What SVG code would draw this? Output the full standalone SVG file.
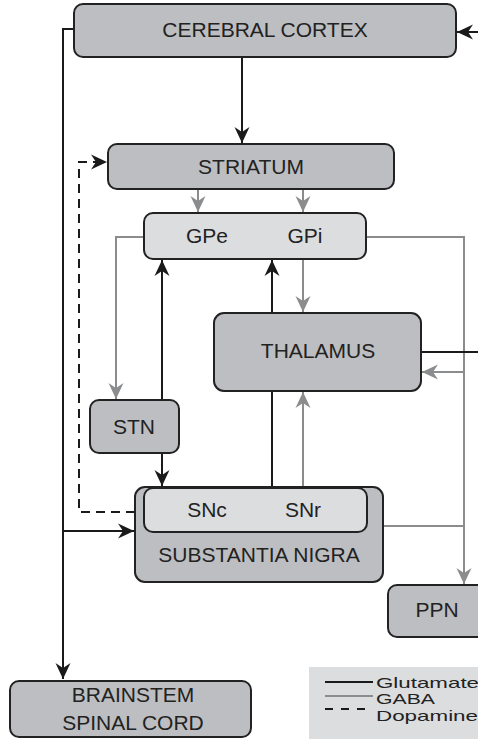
<svg xmlns="http://www.w3.org/2000/svg" width="478" height="739" viewBox="0 0 478 739">
<style>
.box{fill:#bdbec1;stroke:#222;stroke-width:2}
.lbox{fill:#dcdddf;stroke:#222;stroke-width:2}
.t{font-family:"Liberation Sans",Arial,sans-serif;font-size:21px;fill:#222;text-anchor:middle}
.lt{font-family:"Liberation Sans",Arial,sans-serif;font-size:15px;fill:#222}
.k{fill:none;stroke:#1a1a1a;stroke-width:2}
.g{fill:none;stroke:#8b8c8e;stroke-width:2}
.d{fill:none;stroke:#1a1a1a;stroke-width:2;stroke-dasharray:9,6}
.ka{marker-end:url(#ak)}
.ga{marker-end:url(#ag)}
</style>
<defs>
<marker id="ak" markerUnits="userSpaceOnUse" viewBox="0 0 16 16" markerWidth="16" markerHeight="16" refX="16" refY="8" orient="auto"><path d="M0,0.5 L16,8 L0,15.5 L5,8 z" fill="#1a1a1a"/></marker>
<marker id="ag" markerUnits="userSpaceOnUse" viewBox="0 0 16 16" markerWidth="16" markerHeight="16" refX="16" refY="8" orient="auto"><path d="M0,0.5 L16,8 L0,15.5 L5,8 z" fill="#8b8c8e"/></marker>
</defs>
<g id="connectors">
<polyline class="k ka" points="74,29 63,29 63,679"/>
<line class="k ka" x1="242" y1="57" x2="242" y2="143"/>
<line class="k ka" x1="478" y1="32" x2="457" y2="32"/>
<polyline class="d ka" points="135,512 79,512 79,162 107,162"/>
<line class="g ga" x1="198" y1="189" x2="198" y2="212"/>
<line class="g ga" x1="303" y1="189" x2="303" y2="212"/>
<polyline class="g ga" points="144,237 116,237 116,399"/>
<polyline class="g ga" points="366,237 464,237 464,584"/>
<line class="g ga" x1="464" y1="372" x2="422" y2="372"/>
<line class="g" x1="383" y1="526" x2="464" y2="526"/>
<line class="g ga" x1="303" y1="259" x2="303" y2="312"/>
<line class="k ka" x1="272" y1="487" x2="272" y2="260"/>
<line class="g ga" x1="303" y1="487" x2="303" y2="392"/>
<line class="k ka" x1="162" y1="400" x2="162" y2="260"/>
<line class="k ka" x1="162" y1="453" x2="162" y2="486"/>
<line class="k ka" x1="63" y1="531" x2="134" y2="531"/>
<line class="k" x1="421" y1="352" x2="478" y2="352"/>
</g>
<g id="cortex"><rect class="box" x="74" y="4" width="382" height="53" rx="9"/><text class="t" x="265" y="37">CEREBRAL CORTEX</text></g>
<g id="striatum"><rect class="box" x="108" y="144" width="286" height="45" rx="9"/><text class="t" x="251" y="174">STRIATUM</text></g>
<g id="gp"><rect class="lbox" x="144" y="213" width="222" height="46" rx="9"/><text class="t" x="207" y="243">GPe</text><text class="t" x="305" y="243">GPi</text></g>
<g id="thalamus"><rect class="box" x="214" y="313" width="207" height="78" rx="10"/><text class="t" x="318" y="358">THALAMUS</text></g>
<g id="stn"><rect class="box" x="90" y="400" width="89" height="53" rx="9"/><text class="t" x="134" y="434">STN</text></g>
<g id="sn"><rect class="box" x="135" y="487" width="248" height="95" rx="10"/><rect class="lbox" x="144" y="488" width="223" height="44" rx="9"/><text class="t" x="207" y="517">SNc</text><text class="t" x="303" y="517">SNr</text><text class="t" x="259" y="562">SUBSTANTIA NIGRA</text></g>
<g id="ppn"><rect class="box" x="388" y="585" width="100" height="52" rx="9"/><text class="t" x="437" y="617">PPN</text></g>
<g id="brainstem"><rect class="box" x="10" y="681" width="241" height="56" rx="9"/><text class="t" x="133" y="702">BRAINSTEM</text><text class="t" x="133" y="730">SPINAL CORD</text></g>
<g id="legend">
<rect x="309" y="667" width="169" height="72" fill="#dcdddf"/>
<line class="k" x1="325" y1="682" x2="373" y2="682"/>
<line class="g" x1="325" y1="696" x2="373" y2="696"/>
<line class="d" x1="325" y1="709" x2="373" y2="709" style="stroke-dasharray:8,8"/>
<text class="lt" x="376" y="688" textLength="103" lengthAdjust="spacingAndGlyphs">Glutamate</text>
<text class="lt" x="376" y="704" textLength="59" lengthAdjust="spacingAndGlyphs">GABA</text>
<text class="lt" x="376" y="721" textLength="102" lengthAdjust="spacingAndGlyphs">Dopamine</text>
</g>
</svg>
